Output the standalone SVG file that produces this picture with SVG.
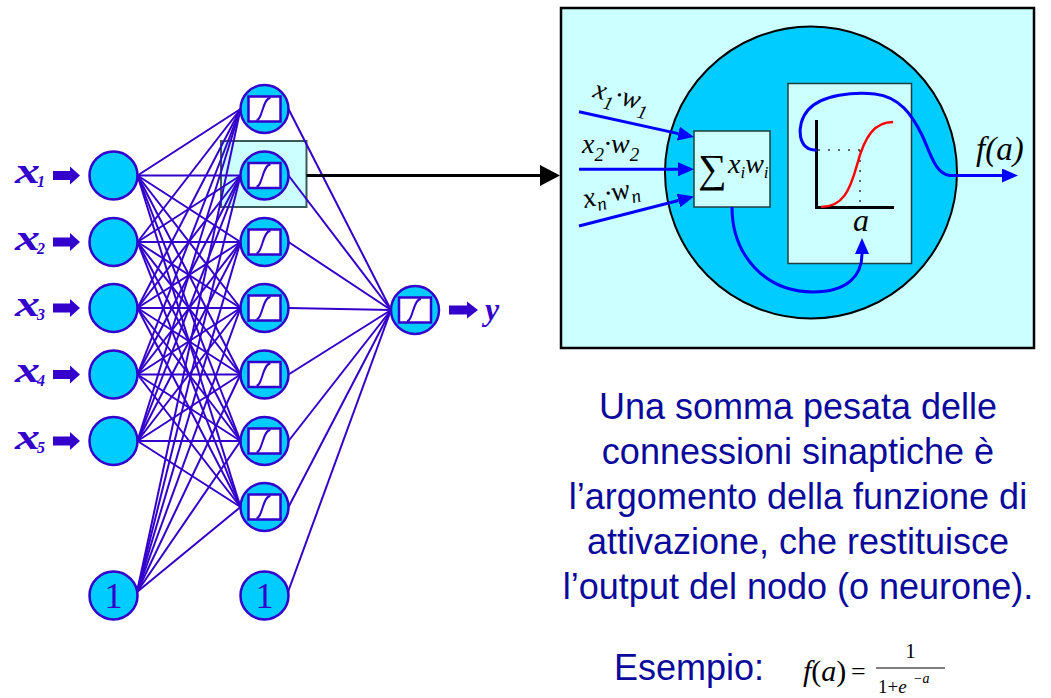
<svg xmlns="http://www.w3.org/2000/svg" xmlns:xlink="http://www.w3.org/1999/xlink" width="1051" height="698" viewBox="0 0 1051 698">
<style>
.n{fill:#00CCFF;stroke:#3300CC;stroke-width:2.5}
.c line{stroke:#3300CC;stroke-width:2}
.sq{fill:#fff;stroke:#3300CC;stroke-width:2.5}
.sg{fill:none;stroke:#3300CC;stroke-width:2}
.xl{font-family:"Liberation Serif",serif;font-style:italic;font-weight:bold;fill:#3300CC}
.one{font-family:"Liberation Serif",serif;font-size:36px;fill:#3300CC;text-anchor:middle}
.ba{fill:#3300CC}
.lab{font-family:"Liberation Serif",serif;font-style:italic;fill:#000}
.bl{fill:none;stroke:#0000FF;stroke-width:3}
.txt{font-family:"Liberation Sans",Arial,sans-serif;font-size:36px;fill:#0A0A9C}
.mid{text-anchor:middle}
.box{fill:#CCFFFF;stroke:#1F3F3F;stroke-width:1.5}
</style>
<defs>
<g id="neuron">
<circle class="n" r="24"/>
<rect class="sq" x="-16" y="-12.5" width="32" height="25"/>
<path class="sg" d="M-8 11 C-2 11 -2 -11 6 -11"/>
</g>
<marker id="ab" viewBox="0 0 16 14" refX="0" refY="7" markerWidth="16" markerHeight="14" markerUnits="userSpaceOnUse" orient="auto"><path d="M0 0 L16 7 L0 14 z" fill="#0000FF"/></marker>
</defs>

<rect id="highlight" x="221" y="141" width="85.5" height="66" fill="#CCFFFF" stroke="#3A5A5A" stroke-width="2"/>

<g id="connectors" class="c">
<line x1="137.5" y1="175.5" x2="240.5" y2="109"/><line x1="137.5" y1="175.5" x2="240.5" y2="175.5"/><line x1="137.5" y1="175.5" x2="240.5" y2="242"/><line x1="137.5" y1="175.5" x2="240.5" y2="308"/><line x1="137.5" y1="175.5" x2="240.5" y2="374.5"/><line x1="137.5" y1="175.5" x2="240.5" y2="441"/><line x1="137.5" y1="175.5" x2="240.5" y2="507"/>
<line x1="137.5" y1="242" x2="240.5" y2="109"/><line x1="137.5" y1="242" x2="240.5" y2="175.5"/><line x1="137.5" y1="242" x2="240.5" y2="242"/><line x1="137.5" y1="242" x2="240.5" y2="308"/><line x1="137.5" y1="242" x2="240.5" y2="374.5"/><line x1="137.5" y1="242" x2="240.5" y2="441"/><line x1="137.5" y1="242" x2="240.5" y2="507"/>
<line x1="137.5" y1="308" x2="240.5" y2="109"/><line x1="137.5" y1="308" x2="240.5" y2="175.5"/><line x1="137.5" y1="308" x2="240.5" y2="242"/><line x1="137.5" y1="308" x2="240.5" y2="308"/><line x1="137.5" y1="308" x2="240.5" y2="374.5"/><line x1="137.5" y1="308" x2="240.5" y2="441"/><line x1="137.5" y1="308" x2="240.5" y2="507"/>
<line x1="137.5" y1="374.5" x2="240.5" y2="109"/><line x1="137.5" y1="374.5" x2="240.5" y2="175.5"/><line x1="137.5" y1="374.5" x2="240.5" y2="242"/><line x1="137.5" y1="374.5" x2="240.5" y2="308"/><line x1="137.5" y1="374.5" x2="240.5" y2="374.5"/><line x1="137.5" y1="374.5" x2="240.5" y2="441"/><line x1="137.5" y1="374.5" x2="240.5" y2="507"/>
<line x1="137.5" y1="441" x2="240.5" y2="109"/><line x1="137.5" y1="441" x2="240.5" y2="175.5"/><line x1="137.5" y1="441" x2="240.5" y2="242"/><line x1="137.5" y1="441" x2="240.5" y2="308"/><line x1="137.5" y1="441" x2="240.5" y2="374.5"/><line x1="137.5" y1="441" x2="240.5" y2="441"/><line x1="137.5" y1="441" x2="240.5" y2="507"/>
<line x1="137" y1="592" x2="240.5" y2="109"/><line x1="137" y1="592" x2="240.5" y2="175.5"/><line x1="137" y1="592" x2="240.5" y2="242"/><line x1="137" y1="592" x2="240.5" y2="308"/><line x1="137" y1="592" x2="240.5" y2="374.5"/><line x1="137" y1="592" x2="240.5" y2="441"/><line x1="137" y1="592" x2="240.5" y2="507"/>
<line x1="288.5" y1="109" x2="391" y2="310"/><line x1="288.5" y1="175.5" x2="391" y2="310"/><line x1="288.5" y1="242" x2="391" y2="310"/><line x1="288.5" y1="308" x2="391" y2="310"/><line x1="288.5" y1="374.5" x2="391" y2="310"/><line x1="288.5" y1="441" x2="391" y2="310"/><line x1="288.5" y1="507" x2="391" y2="310"/><line x1="288" y1="592" x2="391" y2="310"/>
<line x1="306.5" y1="175.5" x2="541" y2="175.5" style="stroke:#000;stroke-width:3"/>
<polygon points="540,165 560,175.5 540,186" fill="#000"/>
</g>

<g id="in1"><text class="xl" x="15" y="183" font-size="36" textLength="25" lengthAdjust="spacingAndGlyphs">x</text><text class="xl" x="37" y="187" font-size="16">1</text><path class="ba" d="M53 171 H70 V166.5 L80 175.5 L70 184.5 V180 H53 Z"/><circle class="n" cx="113.5" cy="175.5" r="24"/></g>
<g id="in2"><text class="xl" x="15" y="249.5" font-size="36" textLength="25" lengthAdjust="spacingAndGlyphs">x</text><text class="xl" x="37" y="253.5" font-size="16">2</text><path class="ba" d="M53 237.5 H70 V233 L80 242 L70 251 V246.5 H53 Z"/><circle class="n" cx="113.5" cy="242" r="24"/></g>
<g id="in3"><text class="xl" x="15" y="315.5" font-size="36" textLength="25" lengthAdjust="spacingAndGlyphs">x</text><text class="xl" x="37" y="319.5" font-size="16">3</text><path class="ba" d="M53 303.5 H70 V299 L80 308 L70 317 V312.5 H53 Z"/><circle class="n" cx="113.5" cy="308" r="24"/></g>
<g id="in4"><text class="xl" x="15" y="382" font-size="36" textLength="25" lengthAdjust="spacingAndGlyphs">x</text><text class="xl" x="37" y="386" font-size="16">4</text><path class="ba" d="M53 370 H70 V365.5 L80 374.5 L70 383.5 V379 H53 Z"/><circle class="n" cx="113.5" cy="374.5" r="24"/></g>
<g id="in5"><text class="xl" x="15" y="448.5" font-size="36" textLength="25" lengthAdjust="spacingAndGlyphs">x</text><text class="xl" x="37" y="452.5" font-size="16">5</text><path class="ba" d="M53 436.5 H70 V432 L80 441 L70 450 V445.5 H53 Z"/><circle class="n" cx="113.5" cy="441" r="24"/></g>
<g id="bias1"><circle class="n" cx="113.5" cy="595.5" r="24"/><text class="one" x="113.5" y="608">1</text></g>

<g id="h1" transform="translate(264.5,109)"><use xlink:href="#neuron"/></g>
<g id="h2" transform="translate(264.5,175.5)"><use xlink:href="#neuron"/></g>
<g id="h3" transform="translate(264.5,242)"><use xlink:href="#neuron"/></g>
<g id="h4" transform="translate(264.5,308)"><use xlink:href="#neuron"/></g>
<g id="h5" transform="translate(264.5,374.5)"><use xlink:href="#neuron"/></g>
<g id="h6" transform="translate(264.5,441)"><use xlink:href="#neuron"/></g>
<g id="h7" transform="translate(264.5,507)"><use xlink:href="#neuron"/></g>
<g id="bias2"><circle class="n" cx="264.5" cy="595.5" r="24"/><text class="one" x="264.5" y="608">1</text></g>

<g id="out"><g transform="translate(415,310)"><use xlink:href="#neuron"/></g><path class="ba" d="M449 305.5 H467 V301.5 L478 310 L467 318.5 V314.5 H449 Z"/><text class="xl" x="485" y="320" font-size="32" font-weight="normal">y</text></g>

<g id="neuron-detail">
<rect x="561" y="8" width="473" height="340" fill="#CCFFFF" stroke="#000" stroke-width="2.5"/>
<circle cx="811" cy="172.5" r="146" fill="#00CCFF" stroke="#000" stroke-width="2"/>
<g id="sum"><rect class="box" x="694" y="131" width="76" height="76"/>
<text class="lab" x="698" y="182" font-size="40" font-style="normal" font-family="'DejaVu Serif',serif">∑</text>
<text class="lab" x="728" y="173" font-size="28">x<tspan font-size="17" dy="5">i</tspan><tspan dy="-5">w</tspan><tspan font-size="17" dy="5">i</tspan></text></g>
<g id="activation"><rect class="box" x="788" y="83.5" width="123.5" height="180"/>
<path d="M860 150 H817 M860 150 V207" stroke="#333" stroke-width="1.5" stroke-dasharray="2 8" fill="none"/>
<path d="M816.5 120 V207.5 H894" stroke="#000" stroke-width="3" fill="none"/>
<path d="M821 207 C843 207 850 190 857 165 C865 135 875 122 893 122" stroke="#FF0000" stroke-width="2.5" fill="none"/>
<text class="lab" x="861" y="231" font-size="32" text-anchor="middle">a</text></g>
<g id="flows">
<line class="bl" x1="579" y1="111.7" x2="678.4" y2="133.6" marker-end="url(#ab)"/>
<line class="bl" x1="579" y1="169.3" x2="678" y2="169.3" marker-end="url(#ab)"/>
<line class="bl" x1="579" y1="226" x2="678.5" y2="200.5" marker-end="url(#ab)"/>
<path class="bl" d="M732 207 C732 255 765 292 813 292 C848 292 862 275 862 254" marker-end="url(#ab)"/>
<path class="bl" d="M817 150 C798 152 795 125 808 110 C822 94 855 92 875 94 C900 97 912 115 922 135 C930 152 935 174 950 175.5 L1002 175.5" marker-end="url(#ab)"/>
</g>
<text class="lab" font-size="28" transform="rotate(15 592 97)" x="592" y="97">x<tspan font-size="19" dy="8">1</tspan><tspan dy="-8">·w</tspan><tspan font-size="19" dy="8">1</tspan></text>
<text class="lab" font-size="28" x="582" y="153">x<tspan font-size="19" dy="8">2</tspan><tspan dy="-8">·w</tspan><tspan font-size="19" dy="8">2</tspan></text>
<text class="lab" font-size="28" transform="rotate(-13 585 208)" x="585" y="208">x<tspan font-size="19" dy="6">n</tspan><tspan dy="-6">·w</tspan><tspan font-size="19" dy="6">n</tspan></text>
<text class="lab" x="976" y="160" font-size="33">f(a)</text>
</g>

<g id="caption">
<text class="txt mid" x="798" y="418.5">Una somma pesata delle</text>
<text class="txt mid" x="798" y="463.5">connessioni sinaptiche è</text>
<text class="txt mid" x="798" y="508.5">l’argomento della funzione di</text>
<text class="txt mid" x="798" y="553.5">attivazione, che restituisce</text>
<text class="txt mid" x="798" y="598.5">l’output del nodo (o neurone).</text>
<text class="txt" x="614" y="680">Esempio:</text>
</g>
<g id="formula" font-family="'Liberation Serif',serif" fill="#000">
<text x="803" y="681" font-size="30" font-style="italic">f<tspan font-style="normal">(</tspan>a<tspan font-style="normal">)</tspan></text>
<text x="851" y="680" font-size="26">=</text>
<line x1="876" y1="668" x2="945" y2="668" stroke="#000" stroke-width="1.2"/>
<text x="910.5" y="658" font-size="21" text-anchor="middle">1</text>
<text x="878" y="693" font-size="19">1+<tspan font-style="italic">e</tspan></text>
<text x="913" y="683" font-size="14" font-style="italic">−a</text>
</g>
</svg>
